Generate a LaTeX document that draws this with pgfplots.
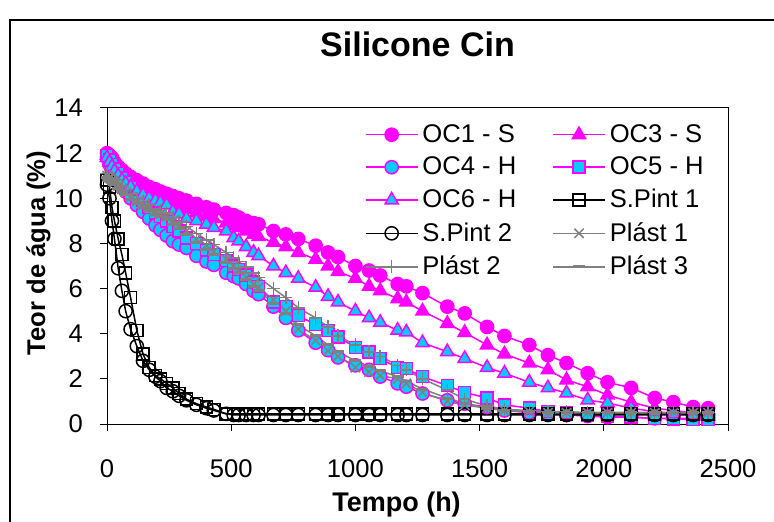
\documentclass[border=0pt]{standalone}
\usepackage{pgfplots}
\usepackage{pgfplotstable}
\pgfplotsset{compat=1.18}
\usepackage{fontspec}
\setmainfont{Liberation Sans}
\definecolor{mag}{RGB}{255,0,255}
\definecolor{cy}{RGB}{0,204,255}
\definecolor{gr}{RGB}{128,128,128}

\pgfplotstableread{
t    oca   ocb   occ   ocd   oce   spa   spb   pla   plb   plc
0    12.0  11.9  11.8  11.9  11.8  10.8  10.6  11.0  11.1  10.9
10   11.9  11.7  11.5  11.7  11.6  10.5  10.0  10.9  11.0  10.8
20   11.8  11.5  11.2  11.5  11.4  9.6   9.0   10.8  10.9  10.7
30   11.6  11.3  11.0  11.3  11.2  9.0   8.2   10.7  10.8  10.6
45   11.4  11.1  10.75 11.1  11.0  8.2   6.9   10.55 10.7  10.45
60   11.25 10.95 10.5  10.9  10.8  7.5   5.9   10.4  10.55 10.3
75   11.1  10.8  10.3  10.7  10.65 6.7   5.0   10.25 10.4  10.15
95   10.95 10.65 10.0  10.5  10.5  5.6   4.2   10.05 10.2  9.95
120  10.8  10.5  9.7   10.2  10.3  4.15  3.45  9.85  10.0  9.75
145  10.65 10.35 9.4   9.9   10.15 3.1   2.8   9.7   9.85  9.6
170  10.5  10.2  9.1   9.6   10.0  2.5   2.4   9.55  9.7   9.45
195  10.4  10.05 8.8   9.35  9.9   2.15  2.1   9.4   9.55  9.3
215  10.3  9.95  8.6   9.2   9.8   2.0   1.9   9.3   9.45  9.2
240  10.2  9.85  8.35  9.0   9.7   1.8   1.6   9.2   9.35  9.05
265  10.1  9.75  8.1   8.75  9.4   1.6   1.45  9.0   9.15  8.85
290  10.0  9.65  7.95  8.55  9.3   1.35  1.25  8.8   8.95  8.65
320  9.9   9.5   7.8   8.25  9.1   1.1   1.05  8.55  8.75  8.4
360  9.75  9.35  7.45  8.0   9.0   0.9   0.85  8.2   8.45  8.05
400  9.6   9.2   7.2   7.7   8.85  0.75  0.7   7.9   8.15  7.75
430  9.5   9.1   7.05  7.5   8.7   0.65  0.6   7.65  7.95  7.5
480  9.35  8.9   6.7   7.25  8.55  0.45  0.45  7.3   7.6   7.15
510  9.25  8.8   6.55  7.0   8.25  0.45  0.4   7.0   7.35  6.9
530  9.15  8.7   6.45  6.85  8.1   0.45  0.4   6.8   7.2   6.7
560  9.0   8.55  6.2   6.6   7.85  0.45  0.4   6.5   6.95  6.4
590  8.9   8.4   5.9   6.3   7.6   0.45  0.4   6.2   6.7   6.1
610  8.85  8.3   5.75  6.1   7.45  0.45  0.4   6.05  6.5   5.9
670  8.55  8.05  5.2   5.4   7.0   0.45  0.4   5.5   6.0   5.35
720  8.4   7.85  4.7   5.2   6.7   0.45  0.4   5.0   5.6   4.9
770  8.2   7.6   4.15  4.8   6.45  0.45  0.4   4.2   5.15  4.4
840  7.9   7.3   3.6   4.4   6.05  0.45  0.4   3.7   4.7   3.9
890  7.6   7.0   3.27  4.15  5.65  0.45  0.4   3.25  4.3   3.5
930  7.4   6.75  2.95  3.85  5.4   0.45  0.4   3.0   3.9   3.2
1000 7.0   6.45  2.6   3.4   5.0   0.45  0.4   2.5   3.5   2.8
1055 6.8   6.1   2.4   3.2   4.7   0.45  0.4   2.3   3.2   2.55
1100 6.58  5.9   2.1   2.9   4.5   0.45  0.4   2.15  3.0   2.35
1170 6.2   5.55  1.8   2.5   4.15  0.45  0.4   2.0   2.6   2.1
1205 6.1   5.4   1.65  2.45  4.07  0.45  0.4   1.8   2.4   1.9
1270 5.8   5.0   1.35  2.1   3.6   0.45  0.4   1.4   2.0   1.55
1370 5.2   4.45  1.05  1.7   3.2   0.45  0.4   1.0   1.5   1.15
1440 4.9   4.05  0.9   1.4   2.9   0.45  0.4   0.84  1.1   0.9
1530 4.3   3.5   0.75  1.15  2.5   0.45  0.4   0.7   0.8   0.7
1600 3.9   3.1   0.6   0.85  2.25  0.45  0.4   0.6   0.65  0.6
1700 3.5   2.7   0.5   0.7   1.85  0.45  0.4   0.55  0.6   0.55
1775 3.05  2.4   0.45  0.55  1.6   0.45  0.4   0.5   0.55  0.5
1850 2.7   1.95  0.4   0.5   1.37  0.45  0.4   0.5   0.55  0.5
1935 2.25  1.65  0.35  0.4   1.06  0.45  0.4   0.5   0.5   0.5
2015 1.85  1.28  0.3   0.35  0.93  0.45  0.4   0.5   0.5   0.5
2110 1.6   0.97  0.3   0.3   0.7   0.45  0.4   0.5   0.5   0.5
2205 1.15  0.7   0.25  0.25  0.55  0.45  0.4   0.5   0.5   0.5
2280 0.97  0.6   0.25  0.22  0.45  0.45  0.4   0.5   0.5   0.5
2360 0.75  0.5   0.25  0.2   0.4   0.45  0.4   0.5   0.5   0.5
2420 0.7   0.45  0.25  0.2   0.35  0.45  0.4   0.5   0.5   0.5
}\data

\begin{document}
\begin{tikzpicture}
\useasboundingbox (0,0) rectangle (387pt,-261pt);
\draw[line width=0.6pt] (5pt,-262pt) -- (5pt,-10pt) -- (388pt,-10pt);
\node[anchor=base, font=\fontsize{17}{20}\selectfont\bfseries] at (208.75pt,-28.5pt) {Silicone Cin};
\node[anchor=base, font=\fontsize{13.5}{16}\selectfont\bfseries] at (198.25pt,-255.8pt) {Tempo (h)};
\node[anchor=base, rotate=90, font=\fontsize{12.8}{15}\selectfont\bfseries] at (22.5pt,-126.5pt) {Teor de água (\%)};
\begin{axis}[
  at={(53.5pt,-212pt)}, anchor=south west,
  scale only axis, width=310.5pt, height=158pt,
  xmin=0, xmax=2500, ymin=0, ymax=14,
  xtick={0,500,...,2500}, ytick={0,2,...,14},
  tick align=outside, major tick length=3.5pt,
  xtick pos=bottom, ytick pos=left,
  axis line style={line width=0.5pt, black},
  tick style={line width=0.5pt, black},
  /pgf/number format/assume math mode=true,
  /pgf/number format/1000 sep={},
  tick label style={font=\fontsize{12.8}{15}\selectfont},
  xticklabel style={yshift=-11pt},
  yticklabel style={xshift=-5pt},
  legend columns=2,
  legend style={draw=none, fill=none, at={(0.405,0.975)}, anchor=north west,
    font=\fontsize{12.8}{15}\selectfont, row sep=1.8pt,
    /tikz/every even column/.append style={column sep=16pt}},
  legend cell align=left,
  legend image code/.code={\draw (0pt,0pt) -- (26pt,0pt); \draw plot coordinates {(13pt,0pt)};},
  every axis plot/.append style={line width=0.75pt},
]
\addplot[mag, mark=*, mark size=3.3pt, mark options={fill=mag, draw=mag}] table[x=t,y=oca] {\data};
\addlegendentry{OC1 - S}
\addplot[mag, mark=triangle*, mark size=3.8pt, mark options={fill=mag, draw=mag}] table[x=t,y=ocb] {\data};
\addlegendentry{OC3 - S}
\addplot[mag, mark=*, mark size=3.3pt, mark options={fill=cy, draw=mag}] table[x=t,y=occ] {\data};
\addlegendentry{OC4 - H}
\addplot[mag, mark=square*, mark size=3pt, mark options={fill=cy, draw=mag}] table[x=t,y=ocd] {\data};
\addlegendentry{OC5 - H}
\addplot[mag, mark=triangle*, mark size=3.8pt, mark options={fill=cy, draw=mag}] table[x=t,y=oce] {\data};
\addlegendentry{OC6 - H}
\addplot[black, mark=square, mark size=3pt, mark options={draw=black}] table[x=t,y=spa] {\data};
\addlegendentry{S.Pint 1}
\addplot[black, mark=o, mark size=3.3pt, mark options={draw=black}] table[x=t,y=spb] {\data};
\addlegendentry{S.Pint 2}
\addplot[gr, mark=x, mark size=3.3pt, mark options={draw=gr}] table[x=t,y=pla] {\data};
\addlegendentry{Plást 1}
\addplot[gr, mark=+, mark size=3.3pt, mark options={draw=gr}] table[x=t,y=plb] {\data};
\addlegendentry{Plást 2}
\addplot[gr, mark=-, mark size=3pt, mark options={draw=gr, line width=1.5pt}] table[x=t,y=plc] {\data};
\addlegendentry{Plást 3}
\draw[line width=0.5pt, black] (rel axis cs:0,1) -- (rel axis cs:1,1) -- (rel axis cs:1,0);
\end{axis}
\end{tikzpicture}
\end{document}
